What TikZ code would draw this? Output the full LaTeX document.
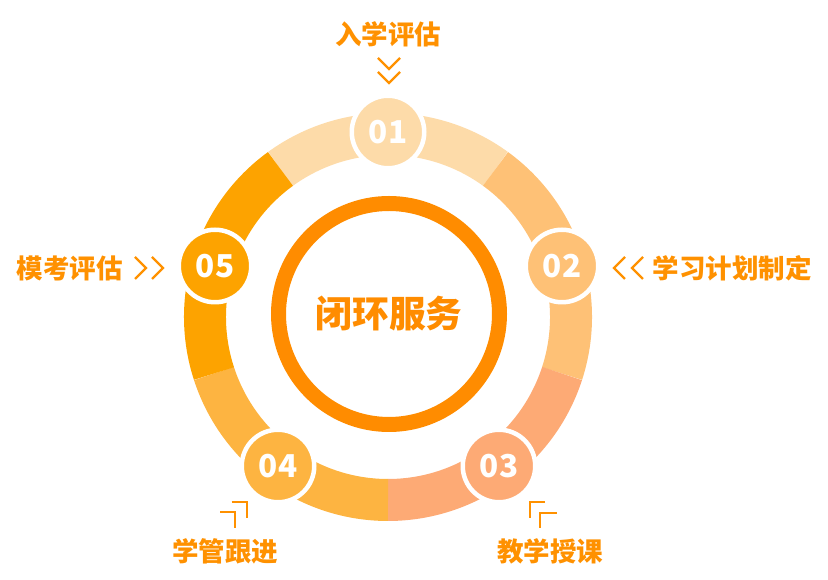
\documentclass[tikz,border=0pt]{standalone}
\usepackage{fontspec}
\usepackage{xcolor}
\usepackage{tikz}
\usetikzlibrary{positioning,calc}
\setmainfont{Noto Sans CJK SC}

\definecolor{segA}{HTML}{FDDBA9}
\definecolor{segB}{HTML}{FEC176}
\definecolor{segC}{HTML}{FDAA75}
\definecolor{segD}{HTML}{FDB441}
\definecolor{segE}{HTML}{FDA300}
\definecolor{coreorange}{HTML}{FF8C00}
\definecolor{labelorange}{HTML}{FF9100}

\tikzset{
  seg/.style={line width=42pt},
  numcirc/.style={circle, draw=white, line width=4.5pt, minimum size=72.5pt, inner sep=0pt,
    text=white, font=\bfseries\fontsize{31.5}{31.5}\selectfont},
  steplabel/.style={inner sep=0pt, text=labelorange, font=\bfseries\fontsize{26.5}{26.5}\selectfont},
  chev/.style={draw=labelorange, line width=2.2pt},
}

\begin{document}
\begin{tikzpicture}[x=1pt,y=1pt]
  \useasboundingbox (0,0) rectangle (828,580);
  \coordinate (ringc) at (388,263);

  % Vòng ngoài: 5 cung
  \foreach \a/\col in {54/segA,-18/segB,-90/segC,-162/segD,126/segE} {
    \draw[seg,\col] ($(ringc)+(\a:183pt)$) arc[start angle=\a, delta angle=72, radius=183pt];
  }

  % Vòng trong
  \node[circle, draw=coreorange, line width=15pt, minimum size=221pt, inner sep=0pt,
    text=coreorange, font=\bfseries\fontsize{36.7}{36.7}\selectfont] (core) at (389,266) {闭环服务};

  % Các bước 01..05
  \node[numcirc, fill=segA] (c1) at (388,448) {01};
  \node[numcirc, fill=segB] (c2) at (562,314) {02};
  \node[numcirc, fill=segC] (c3) at (499,114) {03};
  \node[numcirc, fill=segD] (c4) at (278,114) {04};
  \node[numcirc, fill=segE] (c5) at (215,314) {05};

  % Nhãn
  \node[steplabel] (l1) at (388,546) {入学评估};
  \node[steplabel] (l2) at (732,312) {学习计划制定};
  \node[steplabel] (l3) at (550,29) {教学授课};
  \node[steplabel] (l4) at (225,29) {学管跟进};
  \node[steplabel] (l5) at (69.5,312) {模考评估};

  % Mũi tên trang trí
  \foreach \d in {0,14} { \draw[chev] (378,{522-\d}) -- ++(11,-11) -- ++(11,11); }
  \foreach \d in {0,17} { \draw[chev] ({135+\d},323) -- ++(11,-11) -- ++(-11,-11); }
  \foreach \d in {0,18} { \draw[chev] ({625+\d},323) -- ++(-11,-11) -- ++(11,-11); }
  \draw[chev] (231.7,77.7) -- (246.7,77.7) -- (246.7,61.7);
  \draw[chev] (220,68.3) -- (235,68.3) -- (235,51.7);
  \draw[chev] (545,77.7) -- (530,77.7) -- (530,61.7);
  \draw[chev] (556.7,66.7) -- (540,66.7) -- (540,51.7);
\end{tikzpicture}
\end{document}
